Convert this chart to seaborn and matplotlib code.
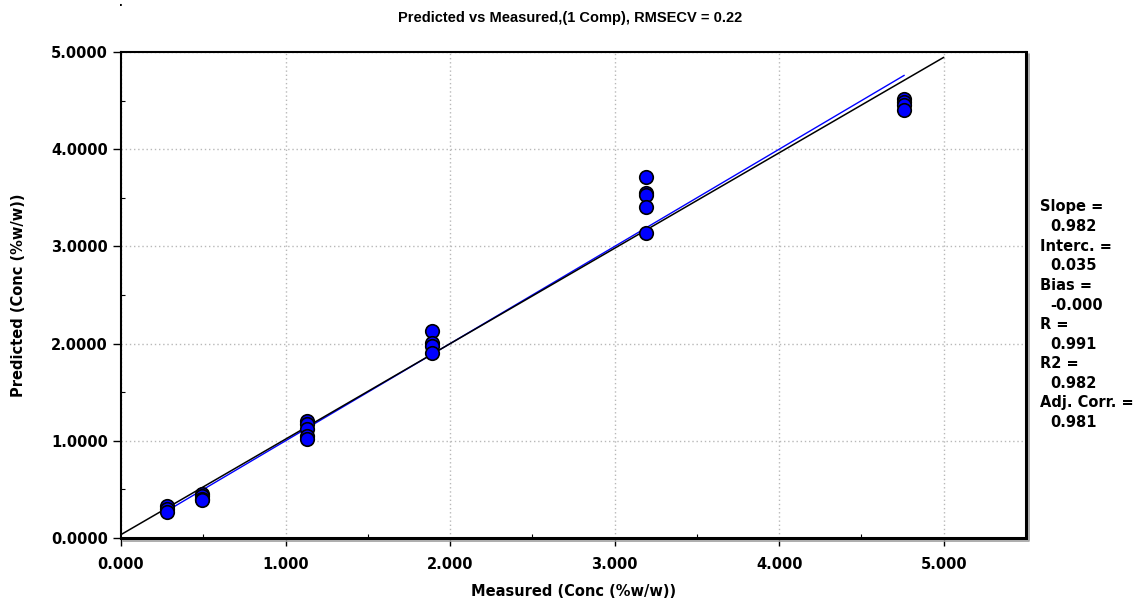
import matplotlib
matplotlib.use("Agg")
import matplotlib.pyplot as plt
import seaborn as sns
import numpy as np
import pandas as pd
from matplotlib.lines import Line2D
from matplotlib.ticker import FormatStrFormatter, MultipleLocator

# ---- data ----
measured = [0.28, 0.28, 0.28,
            0.49, 0.49, 0.49, 0.49,
            1.13, 1.13, 1.13, 1.13, 1.13,
            1.89, 1.89, 1.89, 1.89,
            3.19, 3.19, 3.19, 3.19, 3.19,
            4.76, 4.76, 4.76, 4.76]
predicted = [0.33, 0.30, 0.27,
             0.45, 0.43, 0.40, 0.39,
             1.20, 1.17, 1.12, 1.05, 1.02,
             2.13, 2.01, 1.98, 1.90,
             3.71, 3.55, 3.53, 3.41, 3.14,
             4.52, 4.49, 4.45, 4.40]
slope = 0.982
intercept = 0.035
fit_x = [0.0, 5.0]
target_x = [0.28, 4.76]
stats_labels = ["Slope =", "Interc. =", "Bias =", "R =", "R2 =", "Adj. Corr. ="]
stats_values = ["0.982", "0.035", "-0.000", "0.991", "0.982", "0.981"]
title = "Predicted vs Measured,(1 Comp), RMSECV = 0.22"
xlabel = "Measured (Conc (%w/w))"
ylabel = "Predicted (Conc (%w/w))"

sns.set_style("white")
plt.rcParams['font.family'] = ['DejaVu Sans']
plt.rcParams['font.weight'] = 'bold'
plt.rcParams['text.color'] = 'black'
plt.rcParams['axes.labelcolor'] = 'black'
plt.rcParams['xtick.color'] = 'black'
plt.rcParams['ytick.color'] = 'black'

fig = plt.figure(figsize=(11.4, 6.01), dpi=100)
ax = fig.add_axes([121/1140, 1 - 538/601, (1026 - 121)/1140, (538 - 52)/601])

df = pd.DataFrame({"Measured": measured, "Predicted": predicted})

# target line (blue) and regression line (black)
ax.plot(target_x, target_x, color="#0000FF", lw=1.0, zorder=2)
fx = np.array(fit_x)
ax.plot(fx, slope * fx + intercept, color="black", lw=1.1, zorder=3)

sns.scatterplot(data=df, x="Measured", y="Predicted", ax=ax, color="#0000FF",
                edgecolor="black", linewidth=1.2, s=95, zorder=4, legend=False)

ax.set_xlim(0, 5.5)
ax.set_ylim(0, 5.0)
ax.xaxis.set_major_locator(MultipleLocator(1.0))
ax.xaxis.set_minor_locator(MultipleLocator(0.5))
ax.yaxis.set_major_locator(MultipleLocator(1.0))
ax.yaxis.set_minor_locator(MultipleLocator(0.5))
ax.xaxis.set_major_formatter(FormatStrFormatter("%.3f"))
ax.yaxis.set_major_formatter(FormatStrFormatter("%.4f"))
ax.set_xticks([0, 1, 2, 3, 4, 5])
ax.tick_params(axis="both", which="major", direction="out", length=6, width=1,
               labelsize=10.5, bottom=True, left=True, colors="black")
ax.tick_params(axis="x", which="major", pad=8)
ax.tick_params(axis="both", which="minor", direction="in", length=3, width=0.8,
               bottom=True, left=True)
for lab in ax.get_xticklabels() + ax.get_yticklabels():
    lab.set_fontweight("bold")

ax.grid(True, which="major", color="#b8b8b8", linestyle=(0, (1, 2)), lw=1.0)
for s in ax.spines.values():
    s.set_color("black")
    s.set_linewidth(1.5)
    s.set_visible(True)
ax.spines["right"].set_linewidth(2.2)
ax.spines["bottom"].set_linewidth(2.2)

# shadow lines on right and bottom
fig.add_artist(Line2D([1028.5/1140, 1028.5/1140], [1 - 540/601, 1 - 54/601],
                      transform=fig.transFigure, color="#a0a0a0", lw=1.2))
fig.add_artist(Line2D([123/1140, 1028.5/1140], [1 - 540.5/601, 1 - 540.5/601],
                      transform=fig.transFigure, color="#a0a0a0", lw=1.2))

ax.set_xlabel(xlabel, fontsize=10.5, fontweight="bold", color="black", va="center")
ax.xaxis.set_label_coords(0.5, (538 - 591) / 486)
ax.set_ylabel(ylabel, fontsize=10.5, fontweight="bold", color="black", va="center")
ax.yaxis.set_label_coords((19 - 121) / 905, 0.5)
fig.text(570/1140, 1 - 18/601, title, ha="center", va="center", color="black",
         fontsize=10.5, fontweight="bold", family=["Liberation Sans", "DejaVu Sans"])
fig.text(121/1140, 1 - 3/601, ".", ha="center", va="center", fontsize=7, color="black")

y0 = 207
dy = 19.6
for i, (lab, val) in enumerate(zip(stats_labels, stats_values)):
    fig.text(1040/1140, 1 - (y0 + 2 * i * dy)/601, lab, ha="left", va="center",
             fontsize=10.5, fontweight="bold", color="black")
    fig.text(1050/1140, 1 - (y0 + (2 * i + 1) * dy)/601, val, color="black",
             ha="left", va="center", fontsize=10.5, fontweight="bold")

fig.savefig("out.png", dpi=100)
